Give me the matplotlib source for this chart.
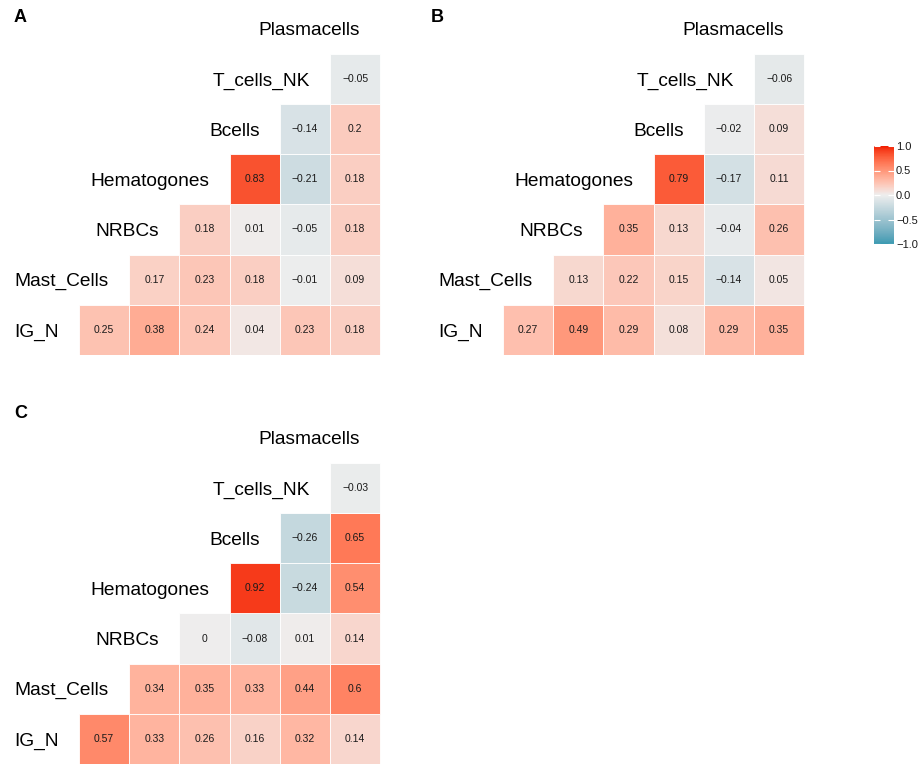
import numpy as np
import matplotlib
matplotlib.use("Agg")
import matplotlib.pyplot as plt
from matplotlib.colors import ListedColormap, Normalize
from matplotlib.cm import ScalarMappable

plt.rcParams['font.family'] = ['Liberation Sans', 'DejaVu Sans']

# === Data ===
variables = ["IG_N", "Mast_Cells", "NRBCs", "Hematogones", "Bcells", "T_cells_NK", "Plasmacells"]

# rows from bottom (IG_N) to top (T_cells_NK), values left to right
corr_A = [
    [0.25, 0.38, 0.24, 0.04, 0.23, 0.18],
    [0.17, 0.23, 0.18, -0.01, 0.09],
    [0.18, 0.01, -0.05, 0.18],
    [0.83, -0.21, 0.18],
    [-0.14, 0.2],
    [-0.05],
]
corr_B = [
    [0.27, 0.49, 0.29, 0.08, 0.29, 0.35],
    [0.13, 0.22, 0.15, -0.14, 0.05],
    [0.35, 0.13, -0.04, 0.26],
    [0.79, -0.17, 0.11],
    [-0.02, 0.09],
    [-0.06],
]
corr_C = [
    [0.57, 0.33, 0.26, 0.16, 0.32, 0.14],
    [0.34, 0.35, 0.33, 0.44, 0.6],
    [0, -0.08, 0.01, 0.14],
    [0.92, -0.24, 0.54],
    [-0.26, 0.65],
    [-0.03],
]
cbar_ticks = [-1.0, -0.5, 0.0, 0.5, 1.0]


# === Colour scale: ggcorr defaults, interpolated in CIELAB like ggplot ===
WHITE = np.array([0.95047, 1.0, 1.08883])
M = np.array([[0.4124, 0.3576, 0.1805],
              [0.2126, 0.7152, 0.0722],
              [0.0193, 0.1192, 0.9505]])


def hex_to_lab(h):
    rgb = np.array([int(h[i:i + 2], 16) / 255 for i in (1, 3, 5)])
    lin = np.where(rgb <= 0.04045, rgb / 12.92, ((rgb + 0.055) / 1.055) ** 2.4)
    t = (M @ lin) / WHITE
    d = 6 / 29
    f = np.where(t > d ** 3, np.cbrt(t), t / (3 * d ** 2) + 4 / 29)
    return np.array([116 * f[1] - 16, 500 * (f[0] - f[1]), 200 * (f[1] - f[2])])


def lab_to_rgb(lab):
    L, a, b = lab
    fy = (L + 16) / 116
    fx = fy + a / 500
    fz = fy - b / 200
    d = 6 / 29
    f = np.array([fx, fy, fz])
    t = np.where(f > d, f ** 3, 3 * d ** 2 * (f - 4 / 29)) * WHITE
    lin = np.linalg.solve(M, t)
    rgb = np.where(lin <= 0.0031308, 12.92 * lin, 1.055 * np.clip(lin, 0, None) ** (1 / 2.4) - 0.055)
    return np.clip(rgb, 0, 1)


low, mid, high = hex_to_lab("#3B9AB2"), hex_to_lab("#EEEEEE"), hex_to_lab("#F21A00")
cols = []
for v in np.linspace(-1, 1, 256):
    if v < 0:
        lab = mid + (low - mid) * (-v)
    else:
        lab = mid + (high - mid) * v
    cols.append(lab_to_rgb(lab))
cmap = ListedColormap(cols)
norm = Normalize(-1, 1)

# === Figure ===
W, H = 921, 764
fig = plt.figure(figsize=(W / 100, H / 100), dpi=100)
S = 50.2  # cell size in px


def fmt(v, spec="g"):
    return format(v, spec).replace("-", "\u2212")


def panel(values, ox, oy, letter, lx, ly):
    # ox, oy: pixel position of the bottom-left corner of the IG_N row (y from top)
    x0, x1, y0, y1 = -1.6, 6.6, 0.0, 7.2
    ax = fig.add_axes([(ox + S * x0) / W, (H - oy + S * y0) / H,
                       S * (x1 - x0) / W, S * (y1 - y0) / H])
    ax.set_xlim(x0, x1)
    ax.set_ylim(y0, y1)
    ax.axis('off')
    for r, row in enumerate(values):
        for k, v in enumerate(row):
            c = r + k
            ax.add_patch(plt.Rectangle((c, r), 1, 1, facecolor=cmap(norm(v)),
                                       edgecolor='white', linewidth=0.6))
            ax.text(c + 0.5, r + 0.5, fmt(v), ha='center', va='center',
                    fontsize=7.5, color='#1a1a1a')
    for r, name in enumerate(variables):
        ax.text(r - 0.4, r + 0.5, name, ha='right', va='center_baseline',
                fontsize=13.8, color='black', clip_on=False)
    fig.text(lx / W, 1 - ly / H, letter, fontsize=13, fontweight='bold',
             ha='center', va='center')
    return ax


panel(corr_A, 79, 355, "A", 20, 17.5)
panel(corr_B, 503, 355, "B", 437, 17.5)
panel(corr_C, 79, 764, "C", 21, 413)

# === Colorbar ===
cax = fig.add_axes([874 / W, 1 - 244 / H, 20 / W, 98 / H])
cb = fig.colorbar(ScalarMappable(norm=norm, cmap=cmap), cax=cax, ticks=cbar_ticks)
cb.outline.set_visible(False)
cb.ax.set_yticklabels([fmt(t, ".1f") for t in cbar_ticks])
cax.yaxis.set_ticks_position('both')
cax.tick_params(axis='y', direction='in', color='white', length=4, width=0.8,
                labelsize=8, labelcolor='#1a1a1a', labelleft=False, labelright=True, pad=1.5)

fig.savefig("out.png", dpi=100)
